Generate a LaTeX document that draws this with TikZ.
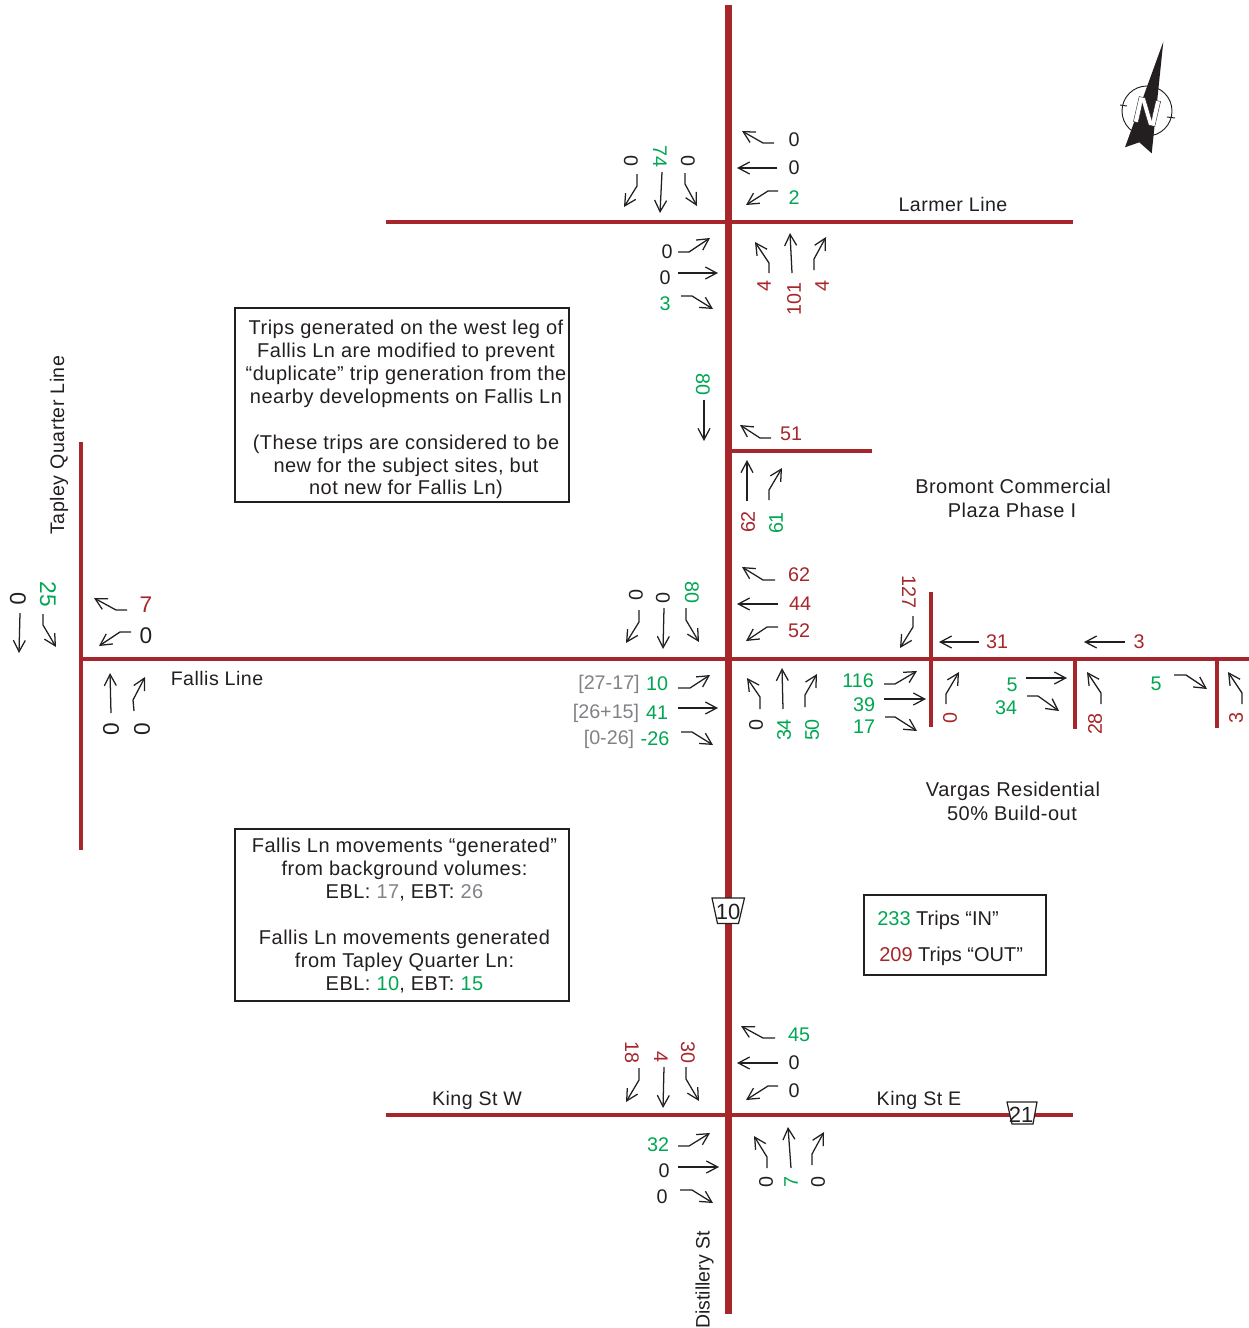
\documentclass[tikz,border=0pt]{standalone}
\usepackage{fontspec}
\setmainfont{Liberation Sans}
\newfontfamily\widefont[LetterSpace=2.4]{Liberation Sans}
\usetikzlibrary{arrows.meta}
\definecolor{rd}{HTML}{A6262B}
\definecolor{gn}{HTML}{00A651}
\definecolor{gy}{HTML}{808285}
\definecolor{bk}{HTML}{231F20}
\newcounter{lc}
\tikzset{
 road/.style={rd,line width=3pt},
 mainroad/.style={rd,line width=5.25pt},
 mv/.style={bk,line width=0.95pt,-{Straight Barb[length=8.5pt,width=9pt]}},
 lb/.style={inner sep=0pt,text=bk,font=\fontsize{14.8}{17}\selectfont},
 big/.style={font=\fontsize{17}{19}\selectfont},
 wd/.style={font=\fontsize{15}{17}\widefont},
 wds/.style={font=\fontsize{14.7}{17}\widefont},
 notebox/.style={draw=bk,line width=0.9pt,inner sep=0pt},
 note/.style={inner sep=0pt,align=center,text=bk,font=\fontsize{15}{17.2}\widefont},
 shield/.style={draw=bk,fill=white,line width=0.9pt},
}
\newcommand\lbl[5]{\stepcounter{lc}\node[lb,yshift=-0.75pt,rotate=#3,#4] (t\arabic{lc}) at (#1,#2) {#5};}
\newcommand\gn[1]{\textcolor{gn}{#1}}
\newcommand\gy[1]{\textcolor{gy}{#1}}
\newcommand\rd[1]{\textcolor{rd}{#1}}
\begin{document}
\begin{tikzpicture}[x=0.75pt,y=-0.75pt]
\useasboundingbox (0,0) rectangle (1249,1328);
% roads
\draw[road] (386,221.5) -- (1073,221.5);
\draw[road] (728,451) -- (872,451);
\draw[road] (80,659) -- (1249,659);
\draw[road] (80.5,442) -- (80.5,850);
\draw[road] (386,1115) -- (1073,1115);
\draw[road] (931,592) -- (931,727);
\draw[road] (1075,659) -- (1075,729);
\draw[road] (1216.5,659) -- (1216.5,728);
\draw[mainroad] (728,5) -- (728,1314);
% shields
\draw[shield] (712,898) -- (744.5,898) -- (738.5,923.5) -- (717.5,923.5) -- cycle;
\node[lb,font=\fontsize{16.5}{19}\selectfont] (s10) at (728,911.5) {10};
\draw[shield] (1007,1102) -- (1037,1102) -- (1033,1124) -- (1012,1124) -- cycle;
\node[lb,font=\fontsize{16.5}{19}\selectfont] (s21) at (1021,1115) {21};
% north arrow
\draw[bk,line width=0.7pt] (1147,111) circle (25);
\draw[bk,line width=0.7pt] (1120,105) -- (1127,106) (1167,117) -- (1175,118);
\fill[bk] (1163.3,41.7) -- (1151.7,153.3) -- (1139.3,142.3) -- (1125,147.3) -- cycle;
\node[inner sep=0pt,rotate=-13,font=\fontsize{28}{30}\bfseries] (north) at (1147,111.5)
  {\special{pdf:code q 2 Tr 0.3 w 1 1 1 rg 0.14 0.12 0.13 RG}N\special{pdf:code Q}};
% boxes
\draw[notebox] (235,308) rectangle (569,502);
\node[note] (b1) at (406,409.5) {Trips generated on the west leg of\\Fallis Ln are modified to prevent\\“duplicate” trip generation from the\\nearby developments on Fallis Ln\\~\\(These trips are considered to be\\new for the subject sites, but\\not new for Fallis Ln)};
\draw[notebox] (235,829) rectangle (569,1001);
\node[note] (b2) at (404.5,915.5) {Fallis Ln movements “generated”\\from background volumes:\\EBL: \gy{17}, EBT: \gy{26}\\~\\Fallis Ln movements generated\\from Tapley Quarter Ln:\\EBL: \gn{10}, EBT: \gn{15}};
\draw[notebox] (864,895) rectangle (1046,975);
\node[note,align=left,anchor=west,font=\fontsize{15}{17.2}\selectfont] (b3) at (877,938.5) {\gn{233} Trips “IN”\\[10pt]\hspace{1.5pt}\rd{209} Trips “OUT”};
% street and site labels
\lbl{953}{203}{0}{wds}{Larmer Line}
\lbl{217}{677}{0}{wds}{Fallis Line}
\lbl{59}{444}{90}{wds}{Tapley Quarter Line}
\lbl{477}{1099.5}{0}{wds}{King St W}
\lbl{919}{1099.5}{0}{wds}{King St E}
\lbl{704.5}{1279}{90}{font=\fontsize{14.6}{17}\selectfont}{Distillery St}
\lbl{1013}{485}{0}{wd}{Bromont Commercial}
\lbl{1012}{509}{0}{wd}{Plaza Phase I}
\lbl{1013}{790}{0}{wd}{Vargas Residential}
\lbl{1012}{812}{0}{wd}{50\% Build-out}
% Larmer
\lbl{794}{138.5}{0}{}{0}\lbl{794}{166.5}{0}{}{0}\lbl{794}{196.5}{0}{text=gn}{2}
\lbl{631}{160}{-90}{}{0}\lbl{660}{155}{-90}{text=gn}{74}\lbl{688}{160}{-90}{}{0}
\lbl{667}{251}{0}{}{0}\lbl{665}{277}{0}{}{0}\lbl{665}{303}{0}{text=gn}{3}
\lbl{764}{285}{90}{text=rd}{4}\lbl{794}{298}{90}{text=rd}{101}\lbl{822}{285}{90}{text=rd}{4}
\draw[mv] (774,143) -- (763,143) -- (742,131);
\draw[mv] (777,168) -- (737,168);
\draw[mv] (778,191) -- (768,191) -- (746,205);
\draw[mv] (637,174) -- (637,186) -- (624,207);
\draw[mv] (662,172) -- (660,213);
\draw[mv] (685,173) -- (685,184) -- (697,206);
\draw[mv] (678,252) -- (689,252) -- (710,238);
\draw[mv] (678,273) -- (718,273);
\draw[mv] (681,296) -- (692,296) -- (713,309);
\draw[mv] (769,273) -- (769,263) -- (755,242);
\draw[mv] (792,273) -- (790,233);
\draw[mv] (814,270) -- (814,259) -- (826,237);
% spur
\lbl{703}{383}{-90}{text=gn}{80}
\draw[mv] (704,400) -- (704,441);
\lbl{791}{433}{0}{text=rd}{51}
\draw[mv] (771,438) -- (760,438) -- (740,425);
\lbl{748}{521}{90}{text=rd}{62}\lbl{776}{522}{90}{text=gn}{61}
\draw[mv] (747,501) -- (747,460);
\draw[mv] (769,500) -- (769,490) -- (782,468);
% Fallis
\lbl{799}{574}{0}{text=rd}{62}\lbl{800}{603}{0}{text=rd}{44}\lbl{799}{630}{0}{text=rd}{52}
\lbl{636}{594}{-90}{}{0}\lbl{663}{597}{-90}{}{0}\lbl{692}{591}{-90}{text=gn}{80}
\draw[mv] (775,580) -- (763,580) -- (742,567);
\draw[mv] (778,604) -- (737,604);
\draw[mv] (778,627) -- (767,627) -- (746,641);
\draw[mv] (639,610) -- (639,622) -- (626,643);
\draw[mv] (664,608) -- (663,649);
\draw[mv] (686,608) -- (686,620) -- (699,642);
\lbl{609}{683}{0}{text=gy}{[27-17]}\lbl{657}{683}{0}{text=gn}{10}
\lbl{606}{712}{0}{text=gy}{[26+15]}\lbl{657}{712}{0}{text=gn}{41}
\lbl{609}{738}{0}{text=gy}{[0-26]}\lbl{655}{738}{0}{text=gn}{-26}
\draw[mv] (678,688) -- (690,688) -- (710,675);
\draw[mv] (678,708) -- (718,708);
\draw[mv] (681,732) -- (692,732) -- (713,745);
\lbl{756}{724}{90}{}{0}\lbl{784}{729}{90}{text=gn}{34}\lbl{812}{729}{90}{text=gn}{50}
\draw[mv] (760,709) -- (760,697) -- (747,678);
\draw[mv] (783,709) -- (782,668);
\draw[mv] (805,707) -- (805,695) -- (817,674);
% site driveways
\lbl{909}{591}{-90}{text=rd}{127}
\draw[mv] (913,616) -- (913,627) -- (900,648);
\lbl{997}{640.5}{0}{text=rd}{31}\draw[mv] (979,642) -- (939,642);
\lbl{1139}{640.5}{0}{text=rd}{3}\draw[mv] (1125,642) -- (1084,642);
\lbl{858}{680}{0}{text=gn}{116}\lbl{864}{704}{0}{text=gn}{39}\lbl{864}{726}{0}{text=gn}{17}
\draw[mv] (884,684) -- (895,684) -- (917,671);
\draw[mv] (884,699) -- (926,699);
\draw[mv] (885,717) -- (895,717) -- (917,731);
\lbl{950}{717}{90}{text=rd}{0}
\draw[mv] (946,704) -- (946,694) -- (959,672);
\lbl{1012}{684}{0}{text=gn}{5}\lbl{1006}{707}{0}{text=gn}{34}
\draw[mv] (1026,678) -- (1067,678);
\draw[mv] (1027,696) -- (1038,696) -- (1059,711);
\lbl{1095}{723}{90}{text=rd}{28}
\draw[mv] (1101,704) -- (1101,693) -- (1087,672);
\lbl{1156}{683}{0}{text=gn}{5}
\draw[mv] (1174,675) -- (1186,675) -- (1207,689);
\lbl{1236}{717}{90}{text=rd}{3}
\draw[mv] (1242,704) -- (1242,693) -- (1228,672);
% Tapley
\lbl{18}{598}{-90}{big}{0}\lbl{48}{593}{-90}{big,text=gn}{25}
\draw[mv] (20,613) -- (19,653);
\draw[mv] (43,614) -- (43,625) -- (56,647);
\lbl{146}{604}{0}{big,text=rd}{7}\lbl{146}{634.5}{0}{big}{0}
\draw[mv] (127,610) -- (116,610) -- (94,598);
\draw[mv] (131,632) -- (120,632) -- (99,646);
\lbl{111}{728}{90}{big}{0}\lbl{142}{728}{90}{big}{0}
\draw[mv] (111,713) -- (110,673);
\draw[mv] (134,711) -- (133,700) -- (145,677);
% King
\lbl{799}{1034}{0}{text=gn}{45}\lbl{794}{1062}{0}{}{0}\lbl{794}{1090}{0}{}{0}
\draw[mv] (775,1038) -- (763,1038) -- (741,1026);
\draw[mv] (778,1063) -- (737,1063);
\draw[mv] (778,1086) -- (768,1086) -- (746,1100);
\lbl{632}{1051}{-90}{text=rd}{18}\lbl{661}{1056}{-90}{text=rd}{4}\lbl{688}{1051}{-90}{text=rd}{30}
\draw[mv] (639,1068) -- (639,1080) -- (626,1102);
\draw[mv] (664,1067) -- (663,1108);
\draw[mv] (686,1067) -- (686,1079) -- (699,1101);
\lbl{658}{1144}{0}{text=gn}{32}\lbl{664}{1170}{0}{}{0}\lbl{662}{1196}{0}{}{0}
\draw[mv] (678,1146) -- (689,1146) -- (710,1133);
\draw[mv] (678,1167) -- (719,1167);
\draw[mv] (680,1190) -- (692,1190) -- (713,1203);
\lbl{766}{1181}{90}{}{0}\lbl{791}{1181}{90}{text=gn}{7}\lbl{818}{1181}{90}{}{0}
\draw[mv] (767,1168) -- (767,1157) -- (754,1136);
\draw[mv] (791,1168) -- (788,1127);
\draw[mv] (812,1165) -- (812,1154) -- (824,1132);
\end{tikzpicture}
\end{document}
